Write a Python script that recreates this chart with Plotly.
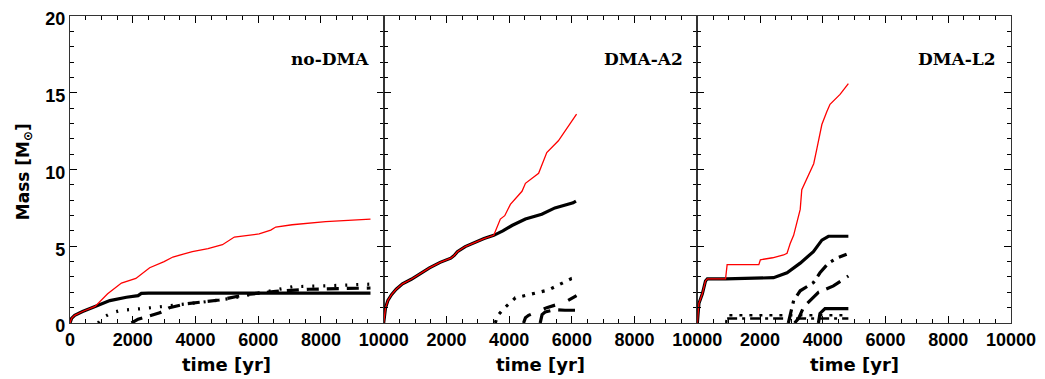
import plotly.graph_objects as go

# ---------------- data ----------------
panel_names = ["no-DMA", "DMA-A2", "DMA-L2"]
x_tick_vals_first = [0, 2000, 4000, 6000, 8000, 10000]
x_tick_text_first = ["0", "2000", "4000", "6000", "8000", "10000"]
x_tick_vals_other = [2000, 4000, 6000, 8000, 10000]
x_tick_text_other = ["2000", "4000", "6000", "8000", "10000"]
y_tick_vals = [0, 5, 10, 15, 20]

# Panel 1: no-DMA
t1_red = [0, 50, 150, 400, 800, 1200, 1640, 2100, 2540, 3000, 3280, 3900, 4400, 4860, 5240, 6030, 6400, 6560, 7080, 8150, 9580]
m1_red = [0, 0.3, 0.5, 0.75, 1.08, 1.9, 2.6, 2.9, 3.6, 4.0, 4.3, 4.65, 4.85, 5.1, 5.6, 5.8, 6.05, 6.25, 6.4, 6.6, 6.77]
t1_solid = [0, 50, 150, 400, 800, 1270, 1800, 2170, 2275, 2500, 9580]
m1_solid = [0, 0.3, 0.5, 0.75, 1.08, 1.46, 1.68, 1.78, 1.93, 1.95, 1.95]
t1_dot = [900, 1000, 1320, 1640, 2330, 2960, 3650, 4230, 5030, 5610, 6350, 7090, 8150, 9580]
m1_dot = [0, 0.3, 0.66, 0.83, 0.94, 1.08, 1.21, 1.36, 1.57, 1.78, 2.06, 2.36, 2.42, 2.53]
t1_dash = [1960, 2170, 2860, 3170, 3700, 4760, 5610, 6560, 7620, 9210, 9580]
m1_dash = [0, 0.25, 0.66, 1.0, 1.25, 1.5, 1.85, 2.06, 2.2, 2.27, 2.28]

# Panel 2: DMA-A2
t2_solid = [0, 20, 60, 135, 250, 400, 600, 880, 1150, 1460, 1800, 2140, 2250, 2350, 2600, 2930, 3200, 3510, 3800, 4090, 4520, 5040, 5460, 6040, 6130]
m2_solid = [0, 0.5, 1.0, 1.47, 1.85, 2.2, 2.55, 2.85, 3.2, 3.59, 3.95, 4.22, 4.4, 4.65, 4.98, 5.29, 5.5, 5.71, 6.0, 6.35, 6.77, 7.09, 7.5, 7.83, 7.94]
t2_red = [0, 20, 60, 135, 250, 400, 600, 880, 1150, 1460, 1800, 2140, 2250, 2350, 2600, 2930, 3200, 3510, 3720, 3860, 4040, 4410, 4520, 4940, 5040, 5200, 5570, 6150]
m2_red = [0, 0.5, 1.0, 1.47, 1.85, 2.2, 2.55, 2.85, 3.2, 3.59, 3.95, 4.22, 4.4, 4.65, 4.98, 5.29, 5.5, 5.71, 6.77, 6.99, 7.73, 8.58, 9.1, 9.75, 10.27, 11.1, 11.87, 13.6]
t2_dot = [3560, 3620, 3830, 4200, 4720, 5250, 5990, 6130]
m2_dot = [0, 0.45, 0.94, 1.64, 1.89, 2.15, 2.9, 2.95]
t2_dashB = [4460, 4520, 4620, 5200, 5780, 6150]
m2_dashB = [0, 0.35, 0.5, 1.0, 1.36, 1.78]
t2_dashC = [4990, 5050, 5150, 5470, 5780, 6100]
m2_dashC = [0, 0.55, 0.72, 0.87, 0.83, 0.83]

# Panel 3: DMA-L2
t3_red = [0, 50, 160, 260, 320, 900, 950, 1960, 2010, 2400, 2750, 2860, 2910, 2960, 3070, 3175, 3230, 3280, 3330, 3440, 3710, 3810, 3910, 3970, 4130, 4230, 4550, 4815]
m3_red = [0, 1.27, 1.9, 2.74, 2.88, 2.88, 3.8, 3.8, 4.12, 4.25, 4.43, 4.54, 4.86, 5.18, 5.71, 6.56, 7.09, 7.4, 8.68, 9.2, 10.38, 11.34, 12.5, 12.93, 13.78, 14.25, 14.89, 15.6]
t3_solid = [0, 50, 160, 260, 320, 900, 2430, 2860, 3280, 3700, 3970, 4180, 4815]
m3_solid = [0, 1.27, 1.9, 2.74, 2.88, 2.88, 2.95, 3.27, 3.9, 4.65, 5.4, 5.65, 5.65]
t3_dashdot = [2900, 2980, 3070, 3280, 3700, 3910, 4180, 4440, 4760]
m3_dashdot = [0, 0.6, 1.46, 2.1, 2.63, 3.27, 3.9, 4.22, 4.48]
t3_longdash = [3100, 3230, 3390, 3600, 3860, 4340, 4815]
m3_longdash = [0, 0.3, 1.04, 1.46, 2.0, 2.42, 3.06]
t3_low = [3860, 3910, 4070, 4815]
m3_low = [0, 0.62, 0.94, 0.94]
t3_flat_dot = [920, 950, 4815]
m3_flat_dot = [0, 0.5, 0.5]
t3_flat_dash = [950, 4815]
m3_flat_dash = [0.3, 0.3]

# ---------------- figure ----------------
fig = go.Figure()
BLACK_W = 3.2
RED_W = 1.3


def add(t, m, panel, color="black", width=BLACK_W, dash="solid"):
    fig.add_trace(go.Scatter(
        x=t, y=m, mode="lines",
        line=dict(color=color, width=width, dash=dash),
        xaxis="x" if panel == 1 else f"x{panel}",
        yaxis="y" if panel == 1 else f"y{panel}",
        showlegend=False, hoverinfo="skip"))


# panel 1
add(t1_dot, m1_dot, 1, dash="2px,9px")
add(t1_dash, m1_dash, 1, dash="12px,8px")
add(t1_solid, m1_solid, 1)
add(t1_red, m1_red, 1, color="red", width=RED_W)
# panel 2
add(t2_dot, m2_dot, 2, dash="3px,7px")
add(t2_dashB, m2_dashB, 2, dash="12px,14px")
add(t2_dashC, m2_dashC, 2, dash="18px,8px")
add(t2_solid, m2_solid, 2)
add(t2_red, m2_red, 2, color="red", width=RED_W)
# panel 3
add(t3_flat_dot, m3_flat_dot, 3, width=2.5, dash="3px,7px")
add(t3_flat_dash, m3_flat_dash, 3, width=2.5, dash="10px,5px,3px,5px")
add(t3_dashdot, m3_dashdot, 3, dash="14px,6px,3px,6px")
add(t3_longdash, m3_longdash, 3, dash="16px,8px")
add(t3_low, m3_low, 3)
add(t3_solid, m3_solid, 3)
add(t3_red, m3_red, 3, color="red", width=RED_W)

tick_font = dict(family="Liberation Sans", size=18, color="black", weight="bold")
axis_common = dict(
    showgrid=False, zeroline=False, showline=True, linecolor="#333", linewidth=1.3,
    mirror="allticks", ticks="inside", tickcolor="black", tickwidth=1,
)

domains = [[0, 1/3], [1/3, 2/3], [2/3, 1]]
layout = dict(
    width=1045, height=379,
    margin=dict(l=70, r=30, t=9, b=56),
    paper_bgcolor="white", plot_bgcolor="white",
)
for i in range(3):
    xs = "xaxis" if i == 0 else f"xaxis{i+1}"
    ys = "yaxis" if i == 0 else f"yaxis{i+1}"
    layout[xs] = dict(
        axis_common, domain=domains[i], range=[0, 10000],
        tickmode="array",
        tickvals=x_tick_vals_first if i == 0 else x_tick_vals_other,
        ticktext=x_tick_text_first if i == 0 else x_tick_text_other,
        ticklen=7, tickfont=tick_font,
        anchor="y" if i == 0 else f"y{i+1}",
        minor=dict(tickmode="linear", tick0=0, dtick=500, ticks="inside", ticklen=4, tickcolor="black"),
    )
    layout[ys] = dict(
        axis_common, range=[0, 20], domain=[0, 1],
        tickmode="array", tickvals=y_tick_vals, ticklen=7, tickfont=tick_font,
        showticklabels=(i == 0), ticklabelshift=3,
        anchor="x" if i == 0 else f"x{i+1}",
        minor=dict(tickmode="linear", tick0=0, dtick=1, ticks="inside", ticklen=4, tickcolor="black"),
    )
fig.update_layout(**layout)

annotations = []
for i, name in enumerate(panel_names):
    xr = "x" if i == 0 else f"x{i+1}"
    yr = "y" if i == 0 else f"y{i+1}"
    annotations.append(dict(
        text=name, xref=f"{xr} domain", yref=f"{yr} domain",
        x=0.96, y=0.86, xanchor="right", yanchor="middle", showarrow=False,
        font=dict(family="DejaVu Serif", size=17, color="black", weight="bold")))
    annotations.append(dict(
        text="time [yr]", xref=f"{xr} domain", yref="paper",
        x=0.5, y=-0.134, xanchor="center", yanchor="middle", showarrow=False,
        font=dict(family="DejaVu Sans", size=18, color="black", weight="bold")))
annotations.append(dict(
    text="Mass [M<sub>⊙</sub>]", xref="paper", yref="paper",
    x=-0.049, y=0.494, xanchor="center", yanchor="middle", textangle=-90, showarrow=False,
    font=dict(family="DejaVu Sans", size=17, color="black", weight="bold")))
fig.update_layout(annotations=annotations)

fig.write_html("out.html")
